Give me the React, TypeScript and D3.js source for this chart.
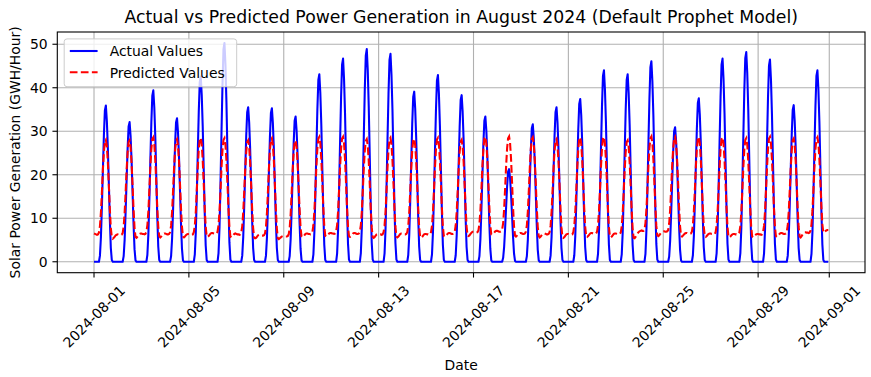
import React from "react";
import * as d3 from "d3";

// ---------- DATA ----------
// Actual values, hours 06..18 of each day of August 2024 (other hours are 0)
const actualDaytime: number[][] = [
  [1.4, 5.7, 12.9, 21.2, 29.1, 34.8, 35.9, 32.3, 26.2, 18.0, 9.7, 3.2, 0.4],
  [1.3, 5.1, 11.6, 18.9, 26.0, 31.1, 32.1, 28.9, 23.4, 16.1, 8.7, 2.9, 0.3],
  [1.6, 6.3, 14.2, 23.2, 31.9, 38.2, 39.4, 35.5, 28.8, 19.7, 10.6, 3.5, 0.4],
  [1.3, 5.3, 11.9, 19.5, 26.7, 32.0, 33.0, 29.7, 24.1, 16.5, 8.9, 3.0, 0.3],
  [1.7, 6.8, 15.3, 25.1, 34.5, 41.3, 42.6, 38.3, 31.1, 21.3, 11.5, 3.8, 0.4],
  [2.0, 8.0, 18.1, 29.7, 40.7, 48.8, 50.3, 45.3, 36.7, 25.2, 13.6, 4.5, 0.5],
  [1.4, 5.7, 12.8, 20.9, 28.8, 34.4, 35.5, 32.0, 25.9, 17.8, 9.6, 3.2, 0.4],
  [1.4, 5.6, 12.7, 20.8, 28.6, 34.2, 35.3, 31.8, 25.8, 17.7, 9.5, 3.2, 0.4],
  [1.3, 5.3, 12.0, 19.7, 27.1, 32.4, 33.4, 30.1, 24.4, 16.7, 9.0, 3.0, 0.3],
  [1.7, 6.9, 15.5, 25.4, 34.9, 41.8, 43.1, 38.8, 31.5, 21.6, 11.6, 3.9, 0.4],
  [1.9, 7.5, 16.8, 27.6, 37.8, 45.3, 46.7, 42.0, 34.1, 23.4, 12.6, 4.2, 0.5],
  [2.0, 7.8, 17.6, 28.9, 39.6, 47.4, 48.9, 44.0, 35.7, 24.5, 13.2, 4.4, 0.5],
  [1.9, 7.6, 17.2, 28.2, 38.7, 46.4, 47.8, 43.0, 34.9, 23.9, 12.9, 4.3, 0.5],
  [1.6, 6.3, 14.1, 23.1, 31.7, 37.9, 39.1, 35.2, 28.5, 19.6, 10.6, 3.5, 0.4],
  [1.7, 6.9, 15.4, 25.3, 34.7, 41.6, 42.9, 38.6, 31.3, 21.5, 11.6, 3.9, 0.4],
  [1.5, 6.1, 13.8, 22.6, 31.0, 37.2, 38.3, 34.5, 28.0, 19.2, 10.3, 3.4, 0.4],
  [1.3, 5.3, 12.0, 19.7, 27.1, 32.4, 33.4, 30.1, 24.4, 16.7, 9.0, 3.0, 0.3],
  [0.9, 3.4, 7.7, 12.6, 17.3, 20.7, 21.3, 19.2, 15.5, 10.7, 5.8, 1.9, 0.2],
  [1.3, 5.1, 11.4, 18.6, 25.6, 30.7, 31.6, 28.4, 23.1, 15.8, 8.5, 2.8, 0.3],
  [1.4, 5.7, 12.8, 20.9, 28.8, 34.4, 35.5, 32.0, 25.9, 17.8, 9.6, 3.2, 0.4],
  [1.5, 6.0, 13.5, 22.1, 30.3, 36.3, 37.4, 33.7, 27.3, 18.7, 10.1, 3.4, 0.4],
  [1.8, 7.0, 15.8, 26.0, 35.6, 42.7, 44.0, 39.6, 32.1, 22.0, 11.9, 4.0, 0.4],
  [1.7, 6.9, 15.5, 25.4, 34.9, 41.8, 43.1, 38.8, 31.5, 21.6, 11.6, 3.9, 0.4],
  [1.8, 7.4, 16.6, 27.2, 37.3, 44.7, 46.1, 41.5, 33.7, 23.1, 12.4, 4.1, 0.5],
  [1.2, 4.9, 11.1, 18.2, 25.0, 30.0, 30.9, 27.8, 22.6, 15.5, 8.3, 2.8, 0.3],
  [1.5, 6.0, 13.5, 22.2, 30.5, 36.5, 37.6, 33.8, 27.4, 18.8, 10.2, 3.4, 0.4],
  [1.9, 7.5, 16.8, 27.6, 37.8, 45.3, 46.7, 42.0, 34.1, 23.4, 12.6, 4.2, 0.5],
  [1.9, 7.7, 17.4, 28.4, 39.0, 46.8, 48.2, 43.4, 35.2, 24.1, 13.0, 4.3, 0.5],
  [1.9, 7.4, 16.7, 27.4, 37.7, 45.1, 46.5, 41.9, 33.9, 23.3, 12.6, 4.2, 0.5],
  [1.4, 5.8, 13.0, 21.2, 29.2, 34.9, 36.0, 32.4, 26.3, 18.0, 9.7, 3.2, 0.4],
  [1.8, 7.0, 15.8, 26.0, 35.6, 42.7, 44.0, 39.6, 32.1, 22.0, 11.9, 4.0, 0.4],
];

// Predicted values, hours 00..23 of each day of August 2024
const predictedHourly: number[][] = [
  [6.5,6.4,6.3,6.2,6.3,6.7,8.2,11.4,16.1,21.3,25.3,27.6,28.0,26.5,22.9,17.7,12.2,7.8,5.6,5.3,5.5,5.8,6.1,6.2],
  [6.3,6.2,6.1,6.1,6.2,6.6,8.1,11.3,16.0,21.2,25.2,27.5,27.9,26.4,22.8,17.6,12.1,7.8,5.7,5.5,5.8,6.1,6.4,6.5],
  [6.5,6.4,6.4,6.3,6.4,6.9,8.4,11.6,16.5,21.7,25.9,28.2,28.6,27.1,23.4,18.2,12.5,8.1,5.9,5.6,5.8,6.1,6.4,6.5],
  [6.5,6.4,6.3,6.3,6.4,6.8,8.3,11.5,16.3,21.5,25.5,27.8,28.2,26.7,23.1,17.9,12.4,8.0,5.8,5.6,5.8,6.1,6.3,6.4],
  [6.4,6.3,6.3,6.2,6.3,6.8,8.3,11.5,16.4,21.6,25.8,28.1,28.5,27.0,23.3,18.1,12.5,8.1,5.9,5.7,5.9,6.2,6.5,6.6],
  [6.6,6.5,6.4,6.4,6.5,6.9,8.4,11.6,16.4,21.6,25.7,28.0,28.4,26.9,23.3,18.1,12.5,8.1,5.8,5.6,5.8,6.1,6.4,6.5],
  [6.4,6.3,6.3,6.2,6.3,6.7,8.2,11.4,16.1,21.2,25.2,27.5,27.9,26.4,22.8,17.7,12.2,7.8,5.6,5.4,5.5,5.8,6.1,6.2],
  [6.2,6.1,6.0,6.0,6.1,6.5,8.0,11.3,16.2,21.5,25.7,28.0,28.4,26.9,23.2,17.9,12.2,7.7,5.4,5.2,5.4,5.6,5.8,5.9],
  [5.9,5.8,5.8,5.8,5.9,6.3,7.8,11.0,15.9,21.1,25.2,27.5,27.9,26.4,22.8,17.7,12.2,7.9,5.8,5.6,5.8,6.1,6.4,6.5],
  [6.5,6.4,6.4,6.3,6.4,6.9,8.4,11.7,16.6,21.8,26.0,28.3,28.7,27.2,23.5,18.3,12.6,8.2,6.0,5.8,6.0,6.3,6.5,6.6],
  [6.6,6.5,6.5,6.4,6.5,7.0,8.5,11.7,16.6,21.8,26.0,28.3,28.7,27.2,23.5,18.2,12.5,8.1,5.9,5.7,5.9,6.2,6.5,6.6],
  [6.6,6.5,6.4,6.4,6.5,6.9,8.4,11.6,16.4,21.5,25.5,27.8,28.2,26.7,23.1,17.9,12.3,7.9,5.7,5.5,5.7,6.0,6.3,6.4],
  [6.4,6.3,6.3,6.2,6.3,6.8,8.3,11.5,16.4,21.6,25.8,28.1,28.5,27.0,23.3,18.1,12.4,8.0,5.8,5.6,5.8,6.1,6.4,6.5],
  [6.5,6.4,6.3,6.3,6.4,6.8,8.3,11.5,16.3,21.5,25.6,27.9,28.3,26.8,23.2,18.0,12.4,8.0,5.8,5.5,5.7,6.0,6.3,6.4],
  [6.4,6.3,6.3,6.2,6.3,6.8,8.3,11.5,16.4,21.6,25.8,28.1,28.5,27.0,23.3,18.1,12.5,8.1,5.9,5.7,5.9,6.2,6.5,6.6],
  [6.6,6.5,6.4,6.4,6.5,6.9,8.4,11.5,16.2,21.3,25.3,27.6,28.0,26.5,23.0,17.9,12.4,8.1,6.0,5.9,6.1,6.4,6.7,6.9],
  [6.9,6.8,6.8,6.7,6.8,7.2,8.7,11.9,16.7,21.9,26.0,28.3,28.7,27.2,23.6,18.4,12.8,8.4,6.3,6.2,6.4,6.7,7.0,7.1],
  [7.1,7.0,6.9,6.9,7.0,7.4,8.9,12.1,16.9,22.0,26.1,28.4,28.8,27.3,23.6,18.3,12.6,8.2,6.0,5.8,6.0,6.3,6.5,6.6],
  [6.6,6.5,6.4,6.4,6.5,6.9,8.4,11.6,16.5,21.7,25.9,28.2,28.6,27.1,23.4,18.2,12.5,8.1,5.9,5.6,5.8,6.1,6.4,6.5],
  [6.5,6.4,6.3,6.3,6.4,6.8,8.3,11.5,16.3,21.5,25.5,27.8,28.2,26.7,23.1,17.9,12.3,7.9,5.7,5.5,5.7,6.0,6.3,6.4],
  [6.4,6.3,6.3,6.2,6.3,6.8,8.3,11.6,16.5,21.7,25.9,28.2,28.6,27.1,23.4,18.2,12.5,8.1,5.9,5.7,5.9,6.2,6.5,6.6],
  [6.6,6.5,6.4,6.4,6.5,6.9,8.4,11.7,16.6,21.8,26.0,28.3,28.7,27.2,23.5,18.2,12.5,8.0,5.8,5.6,5.8,6.1,6.4,6.5],
  [6.5,6.4,6.3,6.3,6.4,6.7,8.2,11.4,16.1,21.2,25.2,27.5,27.9,26.4,22.8,17.6,12.1,7.7,5.5,5.4,5.7,6.1,6.5,6.8],
  [7.0,7.1,7.2,7.1,7.1,7.4,8.9,12.1,16.9,22.0,26.1,28.4,28.8,27.3,23.6,18.4,12.7,8.3,6.1,5.9,6.1,6.4,6.7,6.9],
  [7.0,7.0,6.9,6.9,7.0,7.3,8.8,12.0,16.8,21.9,26.0,28.3,28.7,27.2,23.5,18.3,12.6,8.2,6.0,5.8,6.0,6.3,6.5,6.6],
  [6.6,6.5,6.5,6.4,6.5,6.9,8.4,11.7,16.6,21.8,26.0,28.3,28.7,27.2,23.5,18.2,12.5,8.1,5.9,5.7,5.9,6.2,6.4,6.5],
  [6.5,6.4,6.4,6.3,6.4,6.8,8.3,11.6,16.5,21.7,25.9,28.2,28.6,27.1,23.4,18.2,12.5,8.0,5.8,5.6,5.8,6.1,6.3,6.4],
  [6.4,6.3,6.3,6.2,6.3,6.7,8.2,11.5,16.3,21.5,25.7,28.0,28.4,26.9,23.2,18.0,12.4,8.0,5.8,5.6,5.8,6.1,6.3,6.4],
  [6.4,6.3,6.3,6.2,6.3,6.8,8.3,11.6,16.5,21.7,25.9,28.3,28.7,27.2,23.5,18.2,12.5,8.1,5.9,5.7,5.9,6.2,6.5,6.6],
  [6.6,6.5,6.4,6.4,6.5,6.9,8.4,11.6,16.4,21.5,25.6,27.9,28.3,26.8,23.2,18.0,12.4,8.0,5.8,5.6,5.9,6.3,6.6,6.8],
  [6.8,6.7,6.7,6.6,6.7,7.1,8.6,11.8,16.6,21.8,25.9,28.2,28.6,27.2,23.6,18.4,12.8,8.6,6.7,6.8,7.0,7.2,7.3,7.3],
];

const xTickLabels = [
  "2024-08-01", "2024-08-05", "2024-08-09", "2024-08-13", "2024-08-17",
  "2024-08-21", "2024-08-25", "2024-08-29", "2024-09-01",
];
const yTickValues = [0, 10, 20, 30, 40, 50];
const seriesNames = ["Actual Values", "Predicted Values"];

// ---------- LAYOUT ----------
const W = 871;
const H = 377;
const M = { left: 57.3, right: 865, top: 32, bottom: 272.7 };
const FONT = "'DejaVu Sans', sans-serif";
const FS = 13.9;

type Pt = { t: Date; v: number };

function buildSeries() {
  const actual: Pt[] = [];
  const predicted: Pt[] = [];
  for (let d = 0; d < 31; d++) {
    for (let h = 0; h < 24; h++) {
      const t = new Date(Date.UTC(2024, 7, 1 + d, h));
      const a = h >= 6 && h <= 18 ? actualDaytime[d][h - 6] : 0;
      actual.push({ t, v: a });
      predicted.push({ t, v: predictedHourly[d][h] });
    }
  }
  return { actual, predicted };
}

export default function App() {
  const { actual, predicted } = buildSeries();
  const all = actual.concat(predicted);

  const tExt = d3.extent(all, (p) => p.t.getTime()) as [number, number];
  const tPad = (tExt[1] - tExt[0]) * 0.05;
  const x = d3
    .scaleUtc()
    .domain([new Date(tExt[0] - tPad), new Date(tExt[1] + tPad)])
    .range([M.left, M.right]);

  const vExt = d3.extent(all, (p) => p.v) as [number, number];
  const vPad = (vExt[1] - vExt[0]) * 0.05;
  const y = d3
    .scaleLinear()
    .domain([vExt[0] - vPad, vExt[1] + vPad])
    .range([M.bottom, M.top]);

  const line = d3
    .line<Pt>()
    .x((p) => x(p.t))
    .y((p) => y(p.v));

  const xTicks = xTickLabels.map((s) => ({ s, t: new Date(s + "T00:00:00Z") }));

  const tickLen = 4.86;
  const pad = 4.86;
  const labelCenterY = M.bottom + tickLen + pad + 34.2;

  const legX = 64.2;
  const legY = 38.9;

  return (
    <svg
      width={W}
      height={H}
      style={{ position: "absolute", left: 0, top: 0, background: "#fff" }}
      fontFamily={FONT}
    >
      <rect x={0} y={0} width={W} height={H} fill="#fff" />
      {/* grid */}
      <g stroke="#b0b0b0" strokeWidth={1.1}>
        {xTicks.map((tk) => (
          <line key={"gx" + tk.s} x1={x(tk.t)} x2={x(tk.t)} y1={M.top} y2={M.bottom} />
        ))}
        {yTickValues.map((v) => (
          <line key={"gy" + v} x1={M.left} x2={M.right} y1={y(v)} y2={y(v)} />
        ))}
      </g>

      {/* series */}
      <path d={line(actual) || ""} fill="none" stroke="#0000ff" strokeWidth={2.08} strokeLinejoin="round" />
      <path
        d={line(predicted) || ""}
        fill="none"
        stroke="#ff0000"
        strokeWidth={2.08}
        strokeDasharray="7.7 3.33"
      />

      {/* spines */}
      <rect
        x={M.left}
        y={M.top}
        width={M.right - M.left}
        height={M.bottom - M.top}
        fill="none"
        stroke="#000"
        strokeWidth={1.1}
      />

      {/* x ticks */}
      {xTicks.map((tk) => (
        <g key={"xt" + tk.s}>
          <line x1={x(tk.t)} x2={x(tk.t)} y1={M.bottom} y2={M.bottom + tickLen} stroke="#000" strokeWidth={1.1} />
          <text
            transform={`translate(${x(tk.t)},${labelCenterY}) rotate(-45)`}
            textAnchor="middle"
            dy="0.35em"
            fontSize={FS}
            fill="#000"
          >
            {tk.s}
          </text>
        </g>
      ))}

      {/* y ticks */}
      {yTickValues.map((v) => (
        <g key={"yt" + v}>
          <line x1={M.left - tickLen} x2={M.left} y1={y(v)} y2={y(v)} stroke="#000" strokeWidth={1.1} />
          <text
            x={M.left - tickLen - pad}
            y={y(v)}
            dy="0.35em"
            textAnchor="end"
            fontSize={FS}
            fill="#000"
          >
            {v}
          </text>
        </g>
      ))}

      {/* labels */}
      <text x={(M.left + M.right) / 2} y={22.7} textAnchor="middle" fontSize={17.3} fill="#000">
        Actual vs Predicted Power Generation in August 2024 (Default Prophet Model)
      </text>
      <text x={(M.left + M.right) / 2} y={369.5} textAnchor="middle" fontSize={FS} fill="#000">
        Date
      </text>
      <text
        transform={`translate(19.8,${(M.top + M.bottom) / 2}) rotate(-90)`}
        textAnchor="middle"
        fontSize={FS}
        fill="#000"
      >
        Solar Power Generation (GWH/Hour)
      </text>

      {/* legend */}
      <g>
        <rect
          x={legX}
          y={legY}
          width={172.5}
          height={47.8}
          rx={2.8}
          fill="#fff"
          fillOpacity={0.8}
          stroke="#cccccc"
          strokeWidth={1}
        />
        <line x1={legX + 5.6} x2={legX + 33.4} y1={51} y2={51} stroke="#0000ff" strokeWidth={2.08} />
        <line
          x1={legX + 5.6}
          x2={legX + 33.4}
          y1={72.3}
          y2={72.3}
          stroke="#ff0000"
          strokeWidth={2.08}
          strokeDasharray="7.7 3.33"
        />
        <text x={legX + 45.5} y={56.2} fontSize={FS} fill="#000">
          {seriesNames[0]}
        </text>
        <text x={legX + 45.5} y={77.5} fontSize={FS} fill="#000">
          {seriesNames[1]}
        </text>
      </g>
    </svg>
  );
}
